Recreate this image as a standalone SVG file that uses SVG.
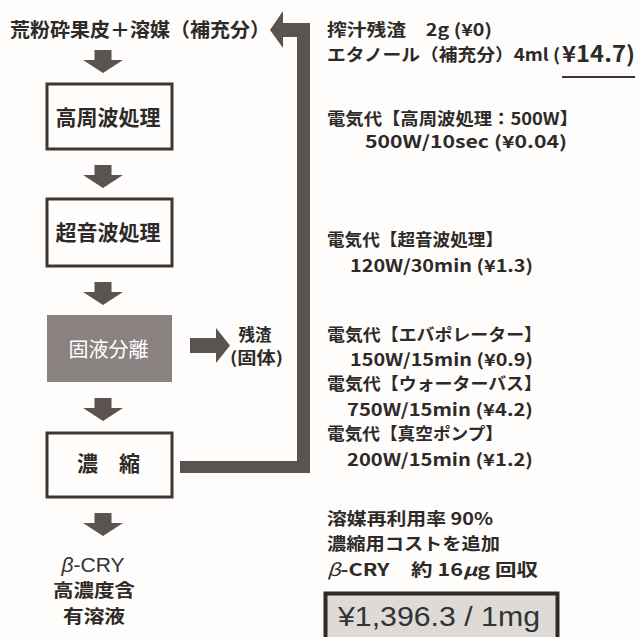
<svg xmlns="http://www.w3.org/2000/svg" width="641" height="637" viewBox="0 0 641 637">
<style>
text{font-family:"Noto Sans CJK JP","Noto Sans",sans-serif;fill:#2e2a28;font-weight:bold}
.box{fill:#fffefc;stroke:#3d3633;stroke-width:3}
.gbox{fill:#8a8280}
.lbl{font-size:21px}
.r{font-size:17px}
.big{font-size:22px}
.arr{fill:#5b5350}
</style>
<defs>
<path id="dn" d="M-8.5,0 H8.5 V10 H20 L0,23 L-20,10 H-8.5 Z"/>
</defs>
<rect width="641" height="637" fill="#fefdfb"/>

<g id="connectors" class="arr">
<use href="#dn" x="103" y="50"/>
<use href="#dn" x="103" y="165"/>
<use href="#dn" x="103" y="282"/>
<use href="#dn" x="103" y="398"/>
<use href="#dn" x="103" y="513"/>
<path d="M190,338 H216 V328 L230,345.5 L216,363 V353 H190 Z"/>
<path d="M180,461 H297 V37 H283 V48 L270,30 L283,11 V23 H310 V473 H180 Z"/>
</g>

<g id="input">
<text x="10" y="37" font-size="19.5" textLength="260" lengthAdjust="spacingAndGlyphs">荒粉砕果皮＋溶媒（補充分）</text>
</g>

<g id="n1">
<rect class="box" x="47" y="84" width="125" height="65"/>
<text class="lbl" x="108" y="125" text-anchor="middle">高周波処理</text>
</g>
<g id="n2">
<rect class="box" x="47" y="199" width="125" height="67"/>
<text class="lbl" x="108" y="240" text-anchor="middle">超音波処理</text>
</g>
<g id="n3">
<rect class="gbox" x="47" y="315" width="125" height="67"/>
<text x="108.5" y="357" font-size="20" text-anchor="middle" style="fill:#fff;font-weight:normal">固液分離</text>
</g>
<g id="n4">
<rect class="box" x="47" y="433" width="125" height="64"/>
<text class="lbl" x="108.5" y="471" text-anchor="middle">濃　縮</text>
</g>
<g id="residue">
<text x="255" y="341" font-size="16.5" text-anchor="middle">残渣</text>
<text x="256.5" y="364" font-size="16.5" text-anchor="middle" textLength="53" lengthAdjust="spacingAndGlyphs">(固体)</text>
</g>
<g id="output">
<text x="93" y="572" font-size="21" text-anchor="middle" style="font-family:'Liberation Sans',Arial,sans-serif;font-weight:normal;fill:#333"><tspan font-style="italic">β</tspan>-CRY</text>
<text x="94" y="596.5" font-size="18" text-anchor="middle" textLength="82" lengthAdjust="spacingAndGlyphs">高濃度含</text>
<text x="94" y="623" font-size="18" text-anchor="middle" textLength="62" lengthAdjust="spacingAndGlyphs">有溶液</text>
</g>

<g id="costs">
<text class="r" x="327" y="36" textLength="165" lengthAdjust="spacingAndGlyphs">搾汁残渣　2g (¥0)</text>
<text class="r" x="327" y="61" textLength="233" lengthAdjust="spacingAndGlyphs">エタノール（補充分）4ml (</text>
<text class="big" x="562" y="62" textLength="73" lengthAdjust="spacingAndGlyphs">¥14.7)</text>
<rect x="562" y="76" width="73" height="2" fill="#3d3633"/>
<text class="r" x="327" y="125" textLength="251" lengthAdjust="spacingAndGlyphs">電気代【高周波処理：500W】</text>
<text class="r" x="365" y="148" textLength="202" lengthAdjust="spacingAndGlyphs">500W/10sec (¥0.04)</text>
<text class="r" x="327" y="246" textLength="176" lengthAdjust="spacingAndGlyphs">電気代【超音波処理】</text>
<text class="r" x="350" y="272" textLength="183" lengthAdjust="spacingAndGlyphs">120W/30min (¥1.3)</text>
<text class="r" x="327" y="341" textLength="215" lengthAdjust="spacingAndGlyphs">電気代【エバポレーター】</text>
<text class="r" x="350" y="366" textLength="183" lengthAdjust="spacingAndGlyphs">150W/15min (¥0.9)</text>
<text class="r" x="327" y="390" textLength="215" lengthAdjust="spacingAndGlyphs">電気代【ウォーターバス】</text>
<text class="r" x="347" y="416" textLength="186" lengthAdjust="spacingAndGlyphs">750W/15min (¥4.2)</text>
<text class="r" x="327" y="440" textLength="176" lengthAdjust="spacingAndGlyphs">電気代【真空ポンプ】</text>
<text class="r" x="347" y="466" textLength="186" lengthAdjust="spacingAndGlyphs">200W/15min (¥1.2)</text>
<text class="r" x="327" y="525" textLength="166" lengthAdjust="spacingAndGlyphs">溶媒再利用率 90%</text>
<text class="r" x="327" y="550" textLength="173" lengthAdjust="spacingAndGlyphs">濃縮用コストを追加</text>
<text class="r" x="327" y="576" textLength="211" lengthAdjust="spacingAndGlyphs"><tspan font-style="italic" font-weight="normal">β</tspan>-CRY　約 16<tspan font-style="italic">μ</tspan>g 回収</text>
</g>

<g id="total">
<rect x="325.5" y="593.5" width="232" height="50" fill="#dedad8" stroke="#2e2a28" stroke-width="4"/>
<text x="338" y="626" font-size="27" textLength="202" lengthAdjust="spacingAndGlyphs" style="font-family:'Liberation Sans',Arial,sans-serif;font-weight:normal;fill:#333">¥1,396.3 / 1mg</text>
</g>
</svg>
